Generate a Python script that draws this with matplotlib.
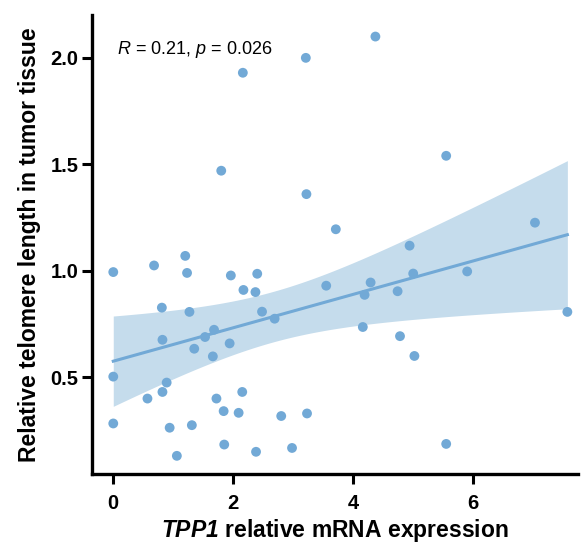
import numpy as np
import matplotlib
matplotlib.use('Agg')
import matplotlib.pyplot as plt

plt.rcParams['font.family'] = ['Liberation Sans', 'DejaVu Sans']
plt.rcParams['mathtext.fontset'] = 'custom'
plt.rcParams['mathtext.rm'] = 'Liberation Sans'
plt.rcParams['mathtext.it'] = 'Liberation Sans:italic'
plt.rcParams['mathtext.bf'] = 'Liberation Sans:italic:bold'

# TPP1 relative mRNA expression
tpp1 = [3.21, 2.16, 1.80, 3.22, 3.71, 4.37, 5.55, 7.03, 4.94,
        0.00, 0.68, 1.20, 1.23, 1.96, 2.40, 2.17, 2.37, 3.55, 0.81,
        1.27, 2.48, 2.69, 0.82, 1.68, 1.53, 1.35, 1.94, 1.66, 0.00,
        0.89, 0.82, 0.57, 1.72, 2.15, 1.84, 2.09, 2.80, 3.23, 0.00,
        0.94, 1.31, 1.85, 1.06, 2.38, 2.98,
        4.29, 4.19, 4.74, 5.00, 5.90, 7.57, 4.16, 4.78, 5.02, 5.55]
# relative telomere length in tumor tissue
telomere = [2.00, 1.93, 1.47, 1.36, 1.195, 2.10, 1.54, 1.226, 1.118,
            0.994, 1.025, 1.07, 0.99, 0.978, 0.986, 0.91, 0.90, 0.93, 0.827,
            0.807, 0.808, 0.775, 0.676, 0.723, 0.689, 0.634, 0.659, 0.598, 0.503,
            0.475, 0.431, 0.40, 0.40, 0.431, 0.341, 0.333, 0.318, 0.33, 0.283,
            0.263, 0.275, 0.184, 0.131, 0.15, 0.168,
            0.945, 0.887, 0.904, 0.987, 0.997, 0.807, 0.736, 0.693, 0.60, 0.187]

x_ticks = [0, 2, 4, 6]
y_ticks = [0.5, 1.0, 1.5, 2.0]
y_tick_labels = ['0.5', '1.0', '1.5', '2.0']

x = np.array(tpp1)
y = np.array(telomere)

# linear fit with 95% confidence band
n = len(x)
b, a = np.polyfit(x, y, 1)
xs = np.linspace(x.min(), x.max(), 100)
ys = a + b * xs
resid = y - (a + b * x)
s = np.sqrt(np.sum(resid ** 2) / (n - 2))
sxx = np.sum((x - x.mean()) ** 2)
se = s * np.sqrt(1 / n + (xs - x.mean()) ** 2 / sxx)
t = 2.006
lo = ys - t * se
hi = ys + t * se

color = '#72a9d6'

fig = plt.figure(figsize=(5.84, 5.45), dpi=100)
ax = fig.add_axes([0.158, 0.13, 0.832, 0.842])

ax.fill_between(xs, lo, hi, color='#c5dcec', linewidth=0, zorder=1)
ax.plot(xs, ys, color=color, linewidth=2.2, zorder=2)
ax.scatter(x, y, s=50, color=color, edgecolors='none', zorder=3)

ax.set_xlim(-0.35, 7.75)
ax.set_ylim(0.045, 2.2)
ax.set_xticks(x_ticks)
ax.set_yticks(y_ticks)
ax.set_yticklabels(y_tick_labels)

for side in ['top', 'right']:
    ax.spines[side].set_visible(False)
for side in ['left', 'bottom']:
    ax.spines[side].set_linewidth(2.4)

ax.tick_params(direction='out', length=7, width=2.2, labelsize=14.5)
ax.tick_params(axis='x', pad=7)
ax.tick_params(axis='y', pad=3)
for lab in ax.get_xticklabels() + ax.get_yticklabels():
    lab.set_fontweight('bold')

ax.text(0.07, 2.04, r'$\mathit{R}$ = 0.21, $\mathit{p}$ = 0.026', fontsize=13,
        ha='left', va='center')

ax.set_xlabel(r'$\mathbf{TPP1}$ relative mRNA expression', fontsize=16.5,
              fontweight='bold', labelpad=3)
ax.set_ylabel('Relative telomere length in tumor tissue', fontsize=16.5,
              fontweight='bold', labelpad=7)

fig.savefig('out.png', dpi=100)
